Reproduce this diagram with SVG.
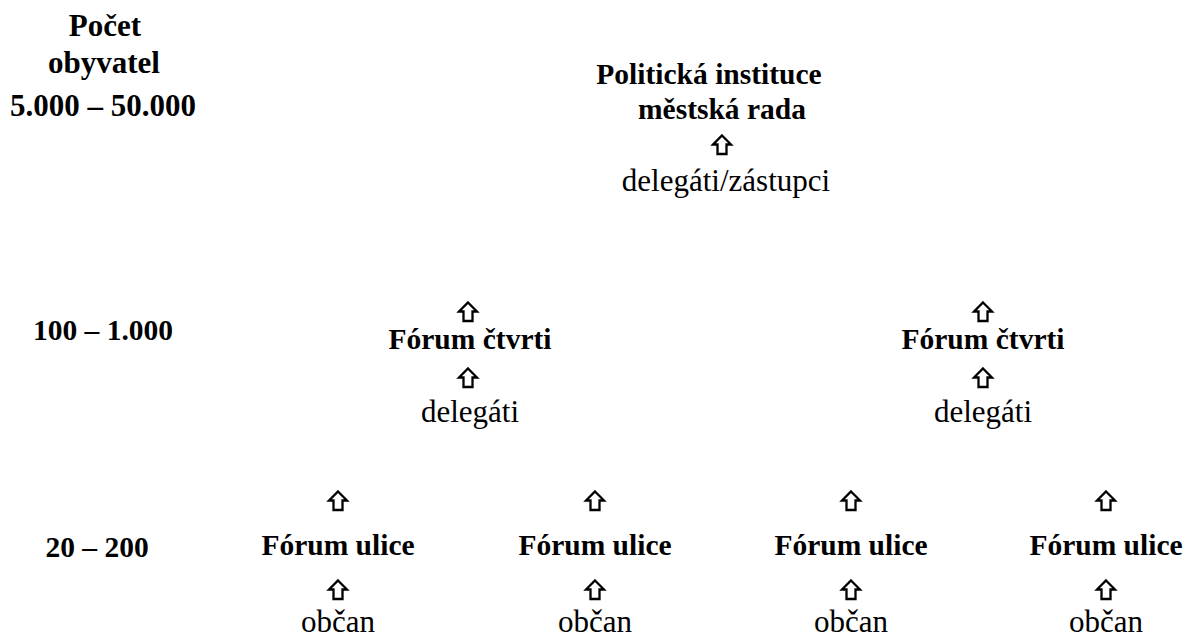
<svg xmlns="http://www.w3.org/2000/svg" xmlns:xlink="http://www.w3.org/1999/xlink" width="1192" height="637" viewBox="0 0 1192 637">
<style>
text{font-family:"Liberation Serif","Times New Roman",serif;fill:#000;text-anchor:middle}
.b{font-weight:bold;font-size:29.5px}
.h{font-weight:bold;font-size:31px}
.r{font-size:31px}
</style>
<defs>
<path id="arr" d="M0,-9.5 L9,-0.5 L4.5,-0.5 L4.5,9 L-4.5,9 L-4.5,-0.5 L-9,-0.5 Z" fill="#fff" stroke="#000" stroke-width="2.3" stroke-linejoin="miter"/>
</defs>
<rect width="1192" height="637" fill="#fff"/>
<g id="legend">
<text class="h" x="105" y="36">Počet</text>
<text class="h" x="104" y="73">obyvatel</text>
<text class="h" x="103" y="116">5.000 – 50.000</text>
<text class="b" x="103" y="340">100 – 1.000</text>
<text class="b" x="97" y="557">20 – 200</text>
</g>
<g id="city">
<text class="b" x="709" y="84">Politická instituce</text>
<text class="b" x="722" y="119">městská rada</text>
</g>
<g id="city-delegates">
<text class="r" x="726" y="191">delegáti/zástupci</text>
</g>
<g id="quarter1">
<text class="b" x="470" y="349">Fórum čtvrti</text>
</g>
<g id="quarter1-delegates">
<text class="r" x="470" y="422">delegáti</text>
</g>
<g id="quarter2">
<text class="b" x="983" y="349">Fórum čtvrti</text>
</g>
<g id="quarter2-delegates">
<text class="r" x="983" y="422">delegáti</text>
</g>
<g id="street1"><text class="b" x="338" y="555">Fórum ulice</text></g>
<g id="street2"><text class="b" x="595" y="555">Fórum ulice</text></g>
<g id="street3"><text class="b" x="851" y="555">Fórum ulice</text></g>
<g id="street4"><text class="b" x="1106" y="555">Fórum ulice</text></g>
<g id="citizen1"><text class="r" x="338" y="632">občan</text></g>
<g id="citizen2"><text class="r" x="595" y="632">občan</text></g>
<g id="citizen3"><text class="r" x="851" y="632">občan</text></g>
<g id="citizen4"><text class="r" x="1106" y="632">občan</text></g>
<g id="connectors">
<use xlink:href="#arr" x="722" y="145"/>
<use xlink:href="#arr" x="468" y="312"/>
<use xlink:href="#arr" x="983" y="312"/>
<use xlink:href="#arr" x="468" y="378"/>
<use xlink:href="#arr" x="983" y="378"/>
<use xlink:href="#arr" x="338" y="501"/>
<use xlink:href="#arr" x="595" y="501"/>
<use xlink:href="#arr" x="851" y="501"/>
<use xlink:href="#arr" x="1106" y="501"/>
<use xlink:href="#arr" x="338" y="590"/>
<use xlink:href="#arr" x="595" y="590"/>
<use xlink:href="#arr" x="851" y="590"/>
<use xlink:href="#arr" x="1106" y="590"/>
</g>
</svg>
